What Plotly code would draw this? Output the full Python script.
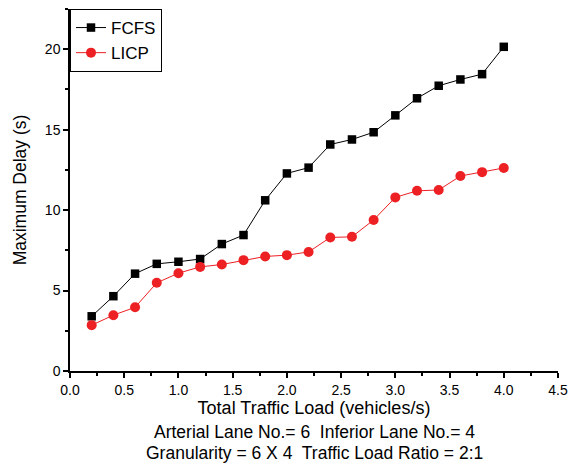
import plotly.graph_objects as go

x_load = [0.2, 0.4, 0.6, 0.8, 1.0, 1.2, 1.4, 1.6, 1.8, 2.0,
          2.2, 2.4, 2.6, 2.8, 3.0, 3.2, 3.4, 3.6, 3.8, 4.0]
fcfs = [3.4, 4.65, 6.05, 6.66, 6.79, 6.96, 7.89, 8.45, 10.61, 12.28,
        12.64, 14.08, 14.39, 14.84, 15.89, 16.95, 17.73, 18.12, 18.45, 20.15]
licp = [2.85, 3.47, 3.96, 5.48, 6.08, 6.47, 6.62, 6.89, 7.12, 7.2,
        7.4, 8.3, 8.34, 9.39, 10.79, 11.2, 11.25, 12.12, 12.36, 12.62]

font_family = "Liberation Sans, Arial, sans-serif"

fig = go.Figure()
fig.add_trace(go.Scatter(
    x=x_load, y=fcfs, name="FCFS", mode="lines+markers",
    line=dict(color="black", width=1),
    marker=dict(symbol="square", size=8.5, color="black"),
))
fig.add_trace(go.Scatter(
    x=x_load, y=licp, name="LICP", mode="lines+markers",
    line=dict(color="#ED2024", width=1),
    marker=dict(symbol="circle", size=10, color="#ED2024"),
))

fig.update_layout(
    width=576, height=466,
    margin=dict(l=70, r=18, t=9, b=95),
    plot_bgcolor="white", paper_bgcolor="white",
    font=dict(family=font_family, color="black", size=14),
    showlegend=True,
    legend=dict(
        x=0.0, y=1.0, xanchor="left", yanchor="top",
        bordercolor="black", borderwidth=1, bgcolor="white",
        font=dict(size=17, family=font_family),
        tracegroupgap=0, itemwidth=30,
    ),
    annotations=[
        dict(text="Arterial Lane No.= 6  Inferior Lane No.= 4",
             x=0.5, y=-0.169, xref="paper", yref="paper",
             xanchor="center", yanchor="middle", showarrow=False,
             font=dict(size=17.5, family=font_family)),
        dict(text="Granularity = 6 X 4  Traffic Load Ratio = 2:1",
             x=0.5, y=-0.227, xref="paper", yref="paper",
             xanchor="center", yanchor="middle", showarrow=False,
             font=dict(size=17.5, family=font_family)),
    ],
)

fig.update_xaxes(
    range=[0, 4.5], dtick=0.5, tickformat=".1f",
    showline=True, linecolor="black", linewidth=1.5,
    ticks="outside", ticklen=5, tickwidth=1.5, tickcolor="black",
    showgrid=False, zeroline=False,
    minor=dict(ticks="outside", ticklen=3, dtick=0.25, tickcolor="black", tickwidth=1.5, showgrid=False),
    title=dict(text="Total Traffic Load (vehicles/s)", font=dict(size=18), standoff=5),
    tickfont=dict(size=14),
)
fig.update_yaxes(
    range=[0, 22.5], dtick=5,
    showline=True, linecolor="black", linewidth=1.5,
    ticks="outside", ticklen=5, tickwidth=1.5, tickcolor="black",
    showgrid=False, zeroline=False,
    minor=dict(ticks="outside", ticklen=3, dtick=2.5, tickcolor="black", tickwidth=1.5, showgrid=False),
    title=dict(text="Maximum Delay (s)", font=dict(size=17.5), standoff=14),
    tickfont=dict(size=14),
)

fig.write_html("out.html")
